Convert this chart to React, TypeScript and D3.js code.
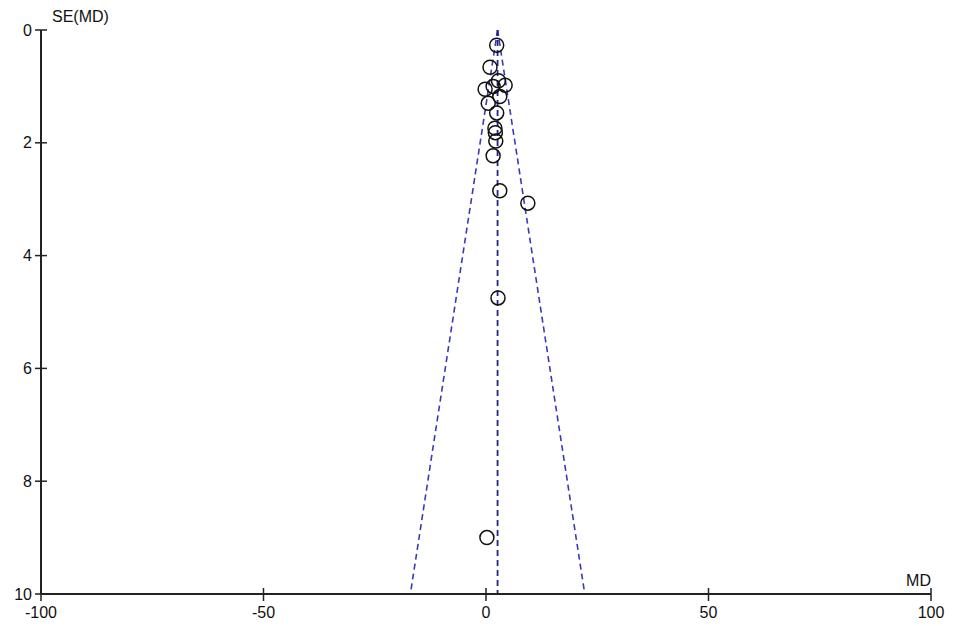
import React from "react";
import * as d3 from "d3";

const mdValues = [2.4, 0.9, 2.8, 4.3, -0.2, 1.6, 3.1, 0.5, 2.4, 2.0, 2.1, 2.2, 1.6, 3.1, 9.4, 2.7, 0.2];
const seValues = [0.27, 0.66, 0.9, 0.98, 1.05, 1.0, 1.18, 1.3, 1.47, 1.74, 1.82, 1.97, 2.23, 2.85, 3.07, 4.75, 9.0];
const pooledMD = [2.6];
const xTicks = [-100, -50, 0, 50, 100];
const yTicks = [0, 2, 4, 6, 8, 10];

export default function App() {
  const W = 957, H = 626;
  const x = d3.scaleLinear().domain([-100, 100]).range([41, 931]);
  const y = d3.scaleLinear().domain([0, 10]).range([30, 594]);
  const pm = pooledMD[0];
  const seMax = 10;
  const lineColor = "#3a3ab8";
  const font = "'Liberation Sans', Arial, sans-serif";
  const funnel = d3.line<[number, number]>().x(d => x(d[0])).y(d => y(d[1]));
  return (
    <div style={{ position: "fixed", left: 0, top: 0 }}>
      <svg width={W} height={H} style={{ display: "block", background: "#fff" }}>
        <rect width={W} height={H} fill="#fff" />
        {/* funnel lines */}
        <path d={funnel([[pm, 0], [pm - 1.96 * seMax, seMax]]) || ""} stroke={lineColor} strokeWidth={1.6} strokeDasharray="6,4" fill="none" />
        <path d={funnel([[pm, 0], [pm + 1.96 * seMax, seMax]]) || ""} stroke={lineColor} strokeWidth={1.6} strokeDasharray="6,4" fill="none" />
        <path d={funnel([[pm, 0], [pm, seMax]]) || ""} stroke="#22228a" strokeWidth={1.8} strokeDasharray="6,4" fill="none" />
        {/* points */}
        {mdValues.map((m, i) => (
          <circle key={i} cx={x(m)} cy={y(seValues[i])} r={7} fill="none" stroke="#111" strokeWidth={1.5} />
        ))}
        {/* axes */}
        <line x1={x(-100)} x2={x(-100)} y1={y(0)} y2={y(10)} stroke="#222" strokeWidth={2} />
        <line x1={x(-100)} x2={x(100)} y1={y(10)} y2={y(10)} stroke="#222" strokeWidth={2} />
        {yTicks.map(t => (
          <g key={"y" + t}>
            <line x1={x(-100) - 6} x2={x(-100) + 6} y1={y(t)} y2={y(t)} stroke="#222" strokeWidth={1.5} />
            <text x={x(-100) - 9} y={y(t)} dy="0.35em" textAnchor="end" fontFamily={font} fontSize={16} fill="#111">{t}</text>
          </g>
        ))}
        {xTicks.map(t => (
          <g key={"x" + t}>
            <line x1={x(t)} x2={x(t)} y1={y(10) - 6} y2={y(10) + 7} stroke="#222" strokeWidth={1.5} />
            <text x={x(t)} y={y(10) + 24} textAnchor="middle" fontFamily={font} fontSize={16} fill="#111">{t}</text>
          </g>
        ))}
        <text x={x(-100) + 11} y={22} fontFamily={font} fontSize={16} fill="#111">SE(MD)</text>
        <text x={x(100)} y={y(10) - 8} textAnchor="end" fontFamily={font} fontSize={16} fill="#111">MD</text>
      </svg>
    </div>
  );
}
